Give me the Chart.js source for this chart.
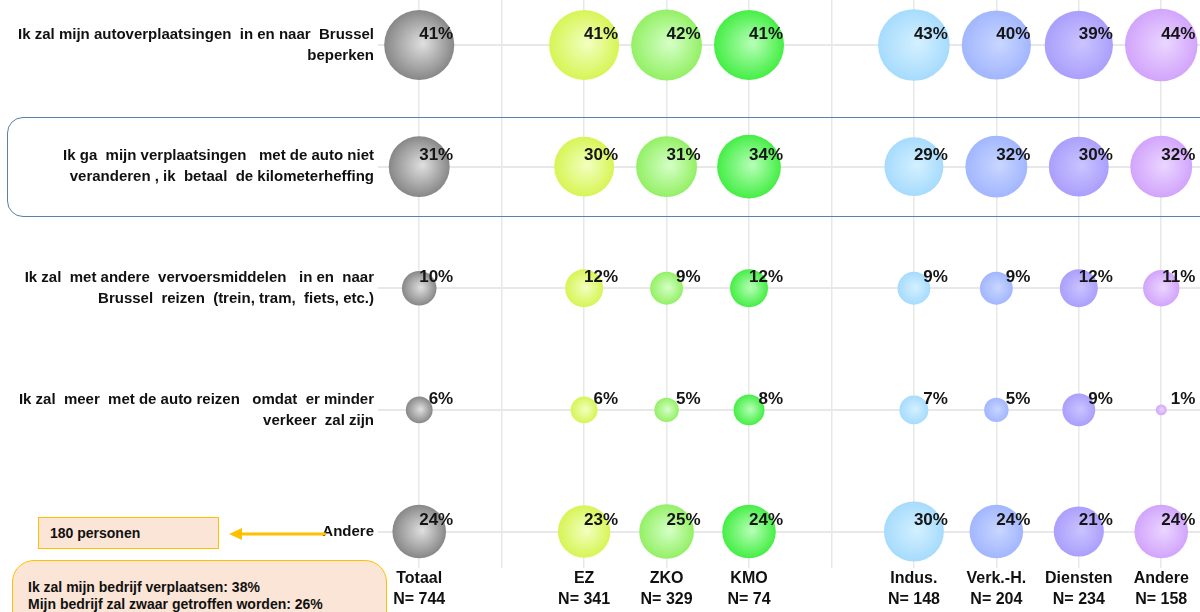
<!DOCTYPE html>
<html>
<head>
<meta charset="utf-8">
<script src="https://cdn.jsdelivr.net/npm/chart.js@4"></script>
<style>
  html, body { margin: 0; padding: 0; background: #fff; overflow: hidden; }
  #wrap { position: relative; width: 1200px; height: 612px; overflow: hidden; }
  canvas { position: absolute; left: 0; top: 0; }
  .ov { position: absolute; box-sizing: border-box; font-family: "Liberation Sans", Arial, sans-serif; font-weight: bold; color: #111; }
</style>
</head>
<body>
<div id="wrap">
  <canvas id="c" width="1200" height="612"></canvas>
  <div class="ov" style="left:7px;top:117px;width:1230px;height:100px;border:1.5px solid #5b7fae;border-radius:16px;"></div>
  <div class="ov" style="left:38px;top:517px;width:181px;height:32px;background:#fbe5d6;border:1px solid #ffc000;font-size:14px;line-height:30px;padding-left:11px;">180 personen</div>
  <svg class="ov" style="left:0;top:0;" width="400" height="612">
    <line x1="238" y1="534" x2="326" y2="534" stroke="#ffc000" stroke-width="3"/>
    <polygon points="229,534 242,528 242,540" fill="#ffc000"/>
  </svg>
  <div class="ov" style="left:12px;top:560px;width:375px;height:90px;background:#fbe5d6;border:1.5px solid #ffc000;border-radius:22px;font-size:14px;line-height:17px;padding:18px 0 0 15px;">Ik zal mijn bedrijf verplaatsen: 38%<br>Mijn bedrijf zal zwaar getroffen worden: 26%</div>
</div>
<script>
// ---- data ----
const categories = ['Totaal', '', 'EZ', 'ZKO', 'KMO', '', 'Indus.', 'Verk.-H.', 'Diensten', 'Andere'];
const sampleSizes = ['N= 744', '', 'N= 341', 'N= 329', 'N= 74', '', 'N= 148', 'N= 204', 'N= 234', 'N= 158'];
const statements = [
  ['Ik zal mijn autoverplaatsingen  in en naar  Brussel', 'beperken'],
  ['Ik ga  mijn verplaatsingen   met de auto niet', 'veranderen , ik  betaal  de kilometerheffing'],
  ['Ik zal  met andere  vervoersmiddelen   in en  naar', 'Brussel  reizen  (trein, tram,  fiets, etc.)'],
  ['Ik zal  meer  met de auto reizen   omdat  er minder', 'verkeer  zal zijn'],
  ['Andere']
];
const totaal   = [41, 31, 10, 6, 24];
const ez       = [41, 30, 12, 6, 23];
const zko      = [42, 31, 9, 5, 25];
const kmo      = [41, 34, 12, 8, 24];
const indus    = [43, 29, 9, 7, 30];
const verkH    = [40, 32, 9, 5, 24];
const diensten = [39, 30, 12, 9, 21];
const andere   = [44, 32, 11, 1, 24];

const groups = [
  { name: 'Totaal',   pos: 0, values: totaal,   light: '#e0e0e0', edge: '#878787' },
  { name: 'EZ',       pos: 2, values: ez,       light: '#f2ffc0', edge: '#d6f555' },
  { name: 'ZKO',      pos: 3, values: zko,      light: '#d6ffc8', edge: '#93f065' },
  { name: 'KMO',      pos: 4, values: kmo,      light: '#b8ffb8', edge: '#45ee45' },
  { name: 'Indus.',   pos: 6, values: indus,    light: '#d4f0ff', edge: '#a6dbfd' },
  { name: 'Verk.-H.', pos: 7, values: verkH,    light: '#c8d6ff', edge: '#a2b6ff' },
  { name: 'Diensten', pos: 8, values: diensten, light: '#cac4ff', edge: '#aa9ffc' },
  { name: 'Andere',   pos: 9, values: andere,   light: '#ead6ff', edge: '#d2a4fc' }
];

const FONT = '"Liberation Sans", Arial, sans-serif';
const RSCALE = 5.47;

function bubbleFill(g) {
  return (ctx) => {
    const chart = ctx.chart;
    const raw = ctx.raw;
    if (!chart.chartArea || !raw) return g.edge;
    const x = chart.scales.x.getPixelForValue(raw.x);
    const y = chart.scales.y.getPixelForValue(raw.y);
    const r = RSCALE * Math.sqrt(raw.v);
    const grad = chart.ctx.createRadialGradient(x + 0.12 * r, y - 0.05 * r, 0, x, y, r);
    grad.addColorStop(0, g.light);
    grad.addColorStop(1, g.edge);
    return grad;
  };
}

const datasets = groups.map(g => ({
  label: g.name,
  data: g.values.map((v, i) => ({ x: g.pos, y: i, v: v })),
  backgroundColor: bubbleFill(g),
  borderWidth: 0,
  radius: (ctx) => ctx.raw ? RSCALE * Math.sqrt(ctx.raw.v) : 0
}));

const valueLabels = {
  id: 'valueLabels',
  afterDatasetsDraw(chart) {
    const c = chart.ctx;
    c.save();
    c.font = 'bold 17px ' + FONT;
    c.fillStyle = '#151515';
    c.textAlign = 'right';
    c.textBaseline = 'middle';
    chart.data.datasets.forEach((ds, di) => {
      const meta = chart.getDatasetMeta(di);
      meta.data.forEach((el, i) => {
        c.fillText(ds.data[i].v + '%', el.x + 34, el.y - 11);
      });
    });
    c.restore();
  }
};

new Chart(document.getElementById('c'), {
  type: 'bubble',
  data: { datasets },
  options: {
    responsive: false,
    animation: false,
    events: [],
    layout: { padding: 0, autoPadding: false },
    plugins: { legend: { display: false }, tooltip: { enabled: false } },
    scales: {
      x: {
        type: 'linear',
        min: -0.5,
        max: 9.47,
        afterBuildTicks: (s) => { s.ticks = categories.map((_, i) => ({ value: i })); },
        afterFit: (s) => { s.height = 44; s.paddingLeft = 0; s.paddingRight = 0; },
        grid: { color: '#e8e8e8', lineWidth: 1.5, drawTicks: false },
        border: { display: false },
        ticks: {
          autoSkip: false,
          maxRotation: 0,
          padding: 0,
          color: '#111',
          font: { family: FONT, size: 16, weight: 'bold', lineHeight: 1.3 },
          callback: (v) => categories[v] ? [categories[v], sampleSizes[v]] : ''
        }
      },
      y: {
        type: 'linear',
        reverse: true,
        min: -0.37,
        max: 4.30,
        afterBuildTicks: (s) => { s.ticks = statements.map((_, i) => ({ value: i })); },
        afterFit: (s) => { s.width = 378; s.paddingTop = 0; s.paddingBottom = 0; },
        grid: { color: '#e8e8e8', lineWidth: 2, drawTicks: false },
        border: { display: false },
        ticks: {
          autoSkip: false,
          padding: 4,
          color: '#111',
          font: { family: FONT, size: 15, weight: 'bold', lineHeight: 1.4 },
          callback: (v) => statements[v]
        }
      }
    }
  },
  plugins: [valueLabels]
});
</script>
</body>
</html>
